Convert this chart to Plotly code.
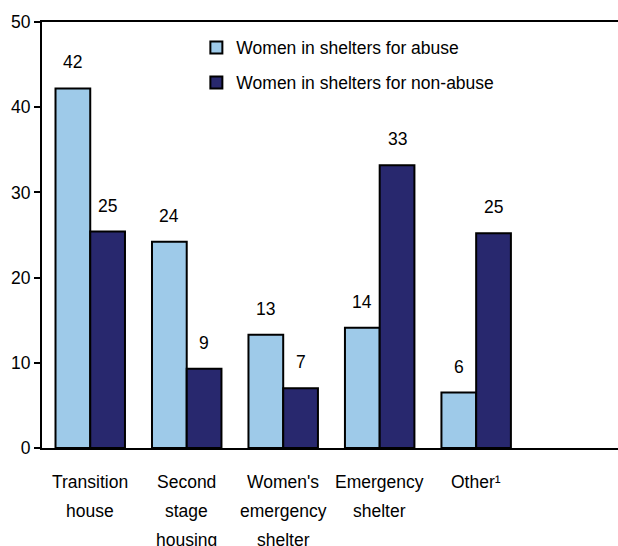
import plotly.graph_objects as go

# Datos
categories = ["Transition<br>house", "Second<br>stage<br>housing", "Women's<br>emergency<br>shelter",
              "Emergency<br>shelter", "Other¹"]
abuse = [42.2, 24.2, 13.3, 14.1, 6.5]
non_abuse = [25.4, 9.3, 7.0, 33.2, 25.2]
abuse_labels = ["42", "24", "13", "14", "6"]
non_abuse_labels = ["25", "9", "7", "33", "25"]
y_ticks = [0, 10, 20, 30, 40, 50]

FONT = "Liberation Sans, Arial, sans-serif"
LIGHT = "#9ecae9"
DARK = "#28286e"
BW = 0.36
xs = list(range(len(categories)))

fig = go.Figure()
fig.add_trace(go.Bar(
    x=xs, y=abuse, name="Women in shelters for abuse",
    width=BW, offset=-BW, marker_color=LIGHT,
    marker_line=dict(color="black", width=2), legend="legend",
))
fig.add_trace(go.Bar(
    x=xs, y=non_abuse, name="Women in shelters for non-abuse",
    width=BW, offset=0, marker_color=DARK,
    marker_line=dict(color="black", width=2), legend="legend2",
))

# Etiquetas de valores sobre las barras
for i in xs:
    fig.add_annotation(x=i - BW / 2, y=abuse[i], text=abuse_labels[i], showarrow=False,
                       yanchor="middle", yshift=26, font=dict(size=17.5, color="black", family=FONT))
    fig.add_annotation(x=i + BW / 2, y=non_abuse[i], text=non_abuse_labels[i], showarrow=False,
                       yanchor="middle", yshift=26, font=dict(size=17.5, color="black", family=FONT))

# Etiquetas del eje x, una línea a la vez para controlar el interlineado
for i, cat in enumerate(categories):
    for j, line in enumerate(cat.split("<br>")):
        fig.add_annotation(x=i, y=0, yref="paper", text=line, showarrow=False,
                           yanchor="middle", yshift=-34 - 29 * j,
                           font=dict(size=17.5, color="black", family=FONT))

legend_style = dict(
    xanchor="left", yanchor="top", bgcolor="rgba(0,0,0,0)",
    font=dict(size=17.5, color="black", family=FONT),
)

fig.update_layout(
    width=618, height=546,
    margin=dict(l=42, r=0, t=22, b=98),
    paper_bgcolor="white", plot_bgcolor="white",
    font=dict(family=FONT, size=17.5, color="black"),
    showlegend=True,
    legend=dict(x=0.268, y=0.982, **legend_style),
    legend2=dict(x=0.268, y=0.900, **legend_style),
    xaxis=dict(
        range=[-0.5, 5.47], showticklabels=False, ticks="",
        showline=True, linecolor="black", linewidth=2, mirror=True,
        showgrid=False, zeroline=False, fixedrange=True,
    ),
    yaxis=dict(
        range=[0, 50], tickvals=y_ticks, ticks="outside", ticklen=6,
        tickwidth=2, tickcolor="black",
        showline=True, linecolor="black", linewidth=2,
        showgrid=False, zeroline=False,
        tickfont=dict(size=17.5, color="black", family=FONT),
    ),
)

# Sin margen en el body, sin barras de desplazamiento ni modebar
fig.write_html(
    "out.html",
    config={"displayModeBar": False},
    post_script="document.body.style.margin='0';document.body.style.overflow='hidden';",
)
